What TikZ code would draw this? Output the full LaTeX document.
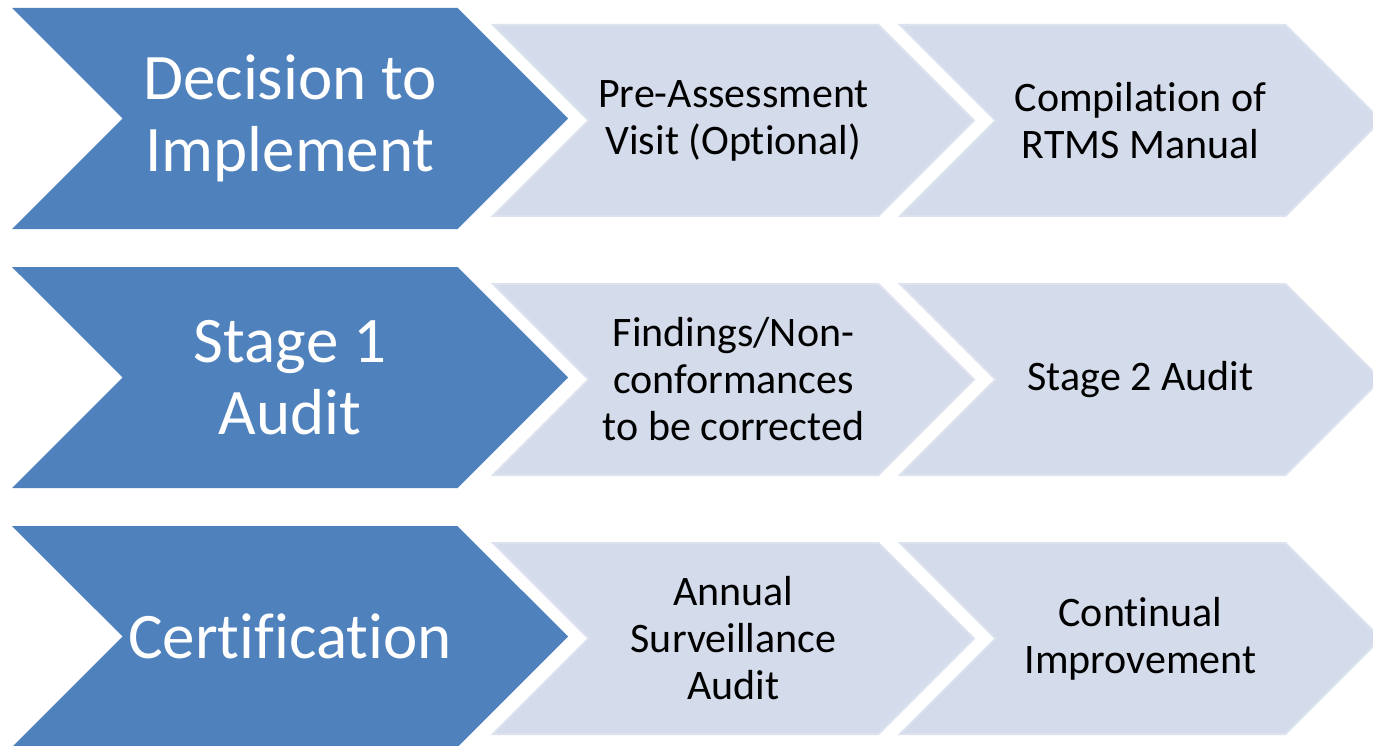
\documentclass[tikz,border=0pt]{standalone}
\usepackage{fontspec}
\setmainfont{Carlito}[Ligatures={NoCommon,NoRequired,NoContextual},Contextuals=NoAlternate]
\usepackage{tikz}
\usetikzlibrary{shapes.symbols,positioning,calc}
\definecolor{fasecol}{RGB}{79,129,189}
\definecolor{etapecol}{RGB}{212,219,234}
\definecolor{etapeline}{RGB}{221,226,239}
\tikzstyle{fase}=[signal, signal from=west, signal to=east, signal pointer angle=90,
fill=fasecol, text=white, minimum width=556pt, minimum height=221pt, inner sep=0pt,
text width=330pt, align=flush center, font=\fontsize{65}{72}\selectfont]
\tikzstyle{etape} = [fase, fill=etapecol, draw=etapeline, line width=2pt, text=black,
minimum width=481pt, minimum height=191pt, text width=280pt,
font=\fontsize{42}{47}\selectfont]
\newcommand{\fase}[2]{node (p#1)[fase]{#2}}
\newcommand{\etape}[2]{node (p#1)[etape]{#2}}

\begin{document}
\begin{tikzpicture}[x=1pt,y=-1pt]
		
		\useasboundingbox (0,0) rectangle (1373,746);
		
		% Draw diagram elements
		\path (290,118.5) \fase{1}{Decision to\\Implement};
		\path (p1.center)+(443.5,2) \etape{2}{Pre-Assessment\\Visit (Optional)};
		\path (p2.center)+(407,0) \etape{3}{Compilation of\\RTMS Manual};
		
		\path (p1.center)+(0,259) \fase{4}{Stage 1\\Audit};
		\path (p4.center)+(443.5,2) \etape{5}{Findings/Non-\\conformances\\to be corrected};
		\path (p5.center)+(407,0) \etape{6}{Stage 2 Audit};
		
		\path (p4.center)+(0,259) \fase{7}{Certification};
		\path (p7.center)+(443.5,2) \etape{8}{Annual\\Surveillance\\Audit};
		\path (p8.center)+(407,0) \etape{9}{Continual\\Improvement};
		
		\end{tikzpicture}
\end{document}
